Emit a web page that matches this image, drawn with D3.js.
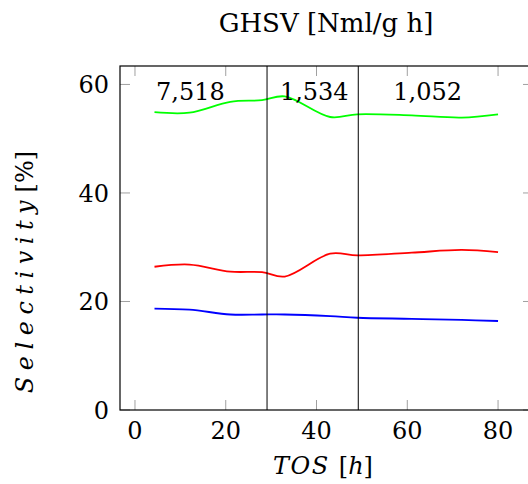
<!DOCTYPE html>
<html><head><meta charset="utf-8">
<script src="https://cdn.jsdelivr.net/npm/d3@7"></script>
<style>body{margin:0;background:#fff}svg text{font-family:"DejaVu Serif",serif;fill:#000}</style>
</head><body><svg id="c" width="528" height="484"></svg>
<script>
const tos = [4.3, 12, 21, 28, 33, 43, 49, 61, 72, 80];
const green = [54.9, 54.8, 56.8, 57.1, 57.8, 54.0, 54.5, 54.3, 53.9, 54.5];
const red = [26.4, 26.8, 25.5, 25.4, 24.6, 28.8, 28.5, 29.0, 29.5, 29.1];
const blue = [18.7, 18.5, 17.6, 17.6, 17.6, 17.3, 17.0, 16.8, 16.6, 16.4];
const xTicks = [0, 20, 40, 60, 80];
const yTicks = [0, 20, 40, 60];
const dividers = [29.1, 49.2];
const ghsvLabels = ["7,518", "1,534", "1,052"];
const ghsvPos = [12.2, 39.5, 64.5];

const svg = d3.select("#c");
const x = d3.scaleLinear().domain([-3.3, 87.7]).range([120, 533]);
const y = d3.scaleLinear().domain([0, 63.4]).range([410, 66]);
const fs = 24;

const tg = svg.append("g").attr("stroke", "#a0a0a0").attr("stroke-width", 1);
xTicks.forEach(t => {
  tg.append("line").attr("x1", x(t)).attr("x2", x(t)).attr("y1", y.range()[0]).attr("y2", y.range()[0] - 10);
  tg.append("line").attr("x1", x(t)).attr("x2", x(t)).attr("y1", y.range()[1]).attr("y2", y.range()[1] + 10);
});
yTicks.forEach(t => {
  tg.append("line").attr("x1", x.range()[0]).attr("x2", x.range()[0] + 10).attr("y1", y(t)).attr("y2", y(t));
  tg.append("line").attr("x1", x.range()[1]).attr("x2", x.range()[1] - 10).attr("y1", y(t)).attr("y2", y(t));
});

const line = d3.line().x((d, i) => x(tos[i])).y(d => y(d)).curve(d3.curveCatmullRom.alpha(0.5));
[[green, "#00ff00"], [red, "#ff0000"], [blue, "#0000ff"]].forEach(([s, c]) => {
  svg.append("path").attr("d", line(s)).attr("fill", "none").attr("stroke", c).attr("stroke-width", 1.8);
});

dividers.forEach(d => {
  svg.append("line").attr("x1", x(d)).attr("x2", x(d)).attr("y1", y.range()[0]).attr("y2", y.range()[1])
    .attr("stroke", "#000").attr("stroke-width", 1);
});

svg.append("rect").attr("x", x.range()[0]).attr("y", y.range()[1])
  .attr("width", x.range()[1] - x.range()[0]).attr("height", y.range()[0] - y.range()[1])
  .attr("fill", "none").attr("stroke", "#000").attr("stroke-width", 1.2);

xTicks.forEach(t => {
  svg.append("text").attr("x", x(t)).attr("y", 439).attr("text-anchor", "middle").attr("font-size", fs).text(t);
});
yTicks.forEach(t => {
  svg.append("text").attr("x", 109).attr("y", y(t) + 9).attr("text-anchor", "end").attr("font-size", fs).text(t);
});

ghsvLabels.forEach((l, i) => {
  svg.append("text").attr("x", x(ghsvPos[i])).attr("y", 100).attr("text-anchor", "middle").attr("font-size", fs).text(l);
});

svg.append("text").attr("x", 326).attr("y", 32).attr("text-anchor", "middle").attr("font-size", 26).text("GHSV [Nml/g h]");

const xl = svg.append("text").attr("x", 323).attr("y", 474).attr("text-anchor", "middle").attr("font-size", fs);
xl.append("tspan").attr("font-style", "italic").attr("letter-spacing", 1.5).text("TOS ");
xl.append("tspan").text("[");
xl.append("tspan").attr("font-style", "italic").text("h");
xl.append("tspan").text("]");

const yl = svg.append("text").attr("transform", "translate(33,272) rotate(-90)").attr("text-anchor", "middle").attr("font-size", fs);
yl.append("tspan").attr("font-style", "italic").attr("letter-spacing", 6.5).text("Selectivit");
yl.append("tspan").attr("font-style", "italic").text("y");
yl.append("tspan").attr("dx", 8).text("[%]");
</script></body></html>
